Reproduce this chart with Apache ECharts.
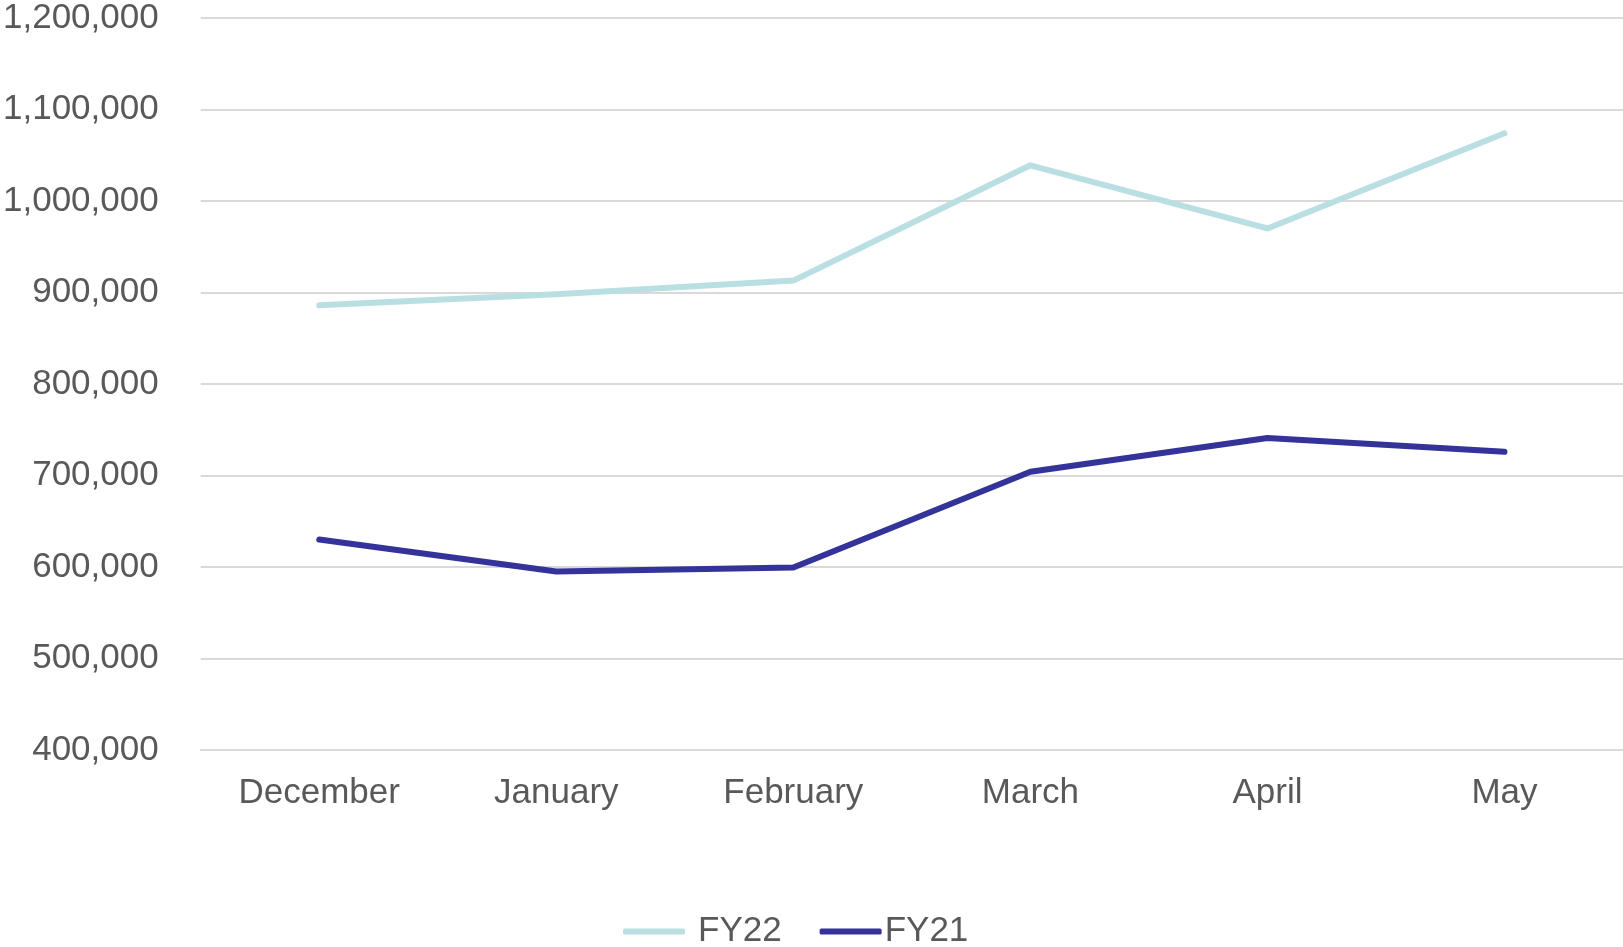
<!DOCTYPE html>
<html>
<head>
<meta charset="utf-8">
<script src="https://cdn.jsdelivr.net/npm/echarts@6/dist/echarts.min.js"></script>
<style>html,body{margin:0;padding:0;background:#fff}#c{width:1623px;height:947px}</style>
</head>
<body>
<div id="c"></div>
<script>
const categories = ['December', 'January', 'February', 'March', 'April', 'May'];
const fy22 = [886000, 898000, 913000, 1039000, 970000, 1074000];
const fy21 = [630000, 595000, 599500, 704000, 741000, 726000];
const yMin = 400000, yMax = 1200000, yStep = 100000;

const font = '"Liberation Sans", Arial, sans-serif';
const chart = echarts.init(document.getElementById('c'));
chart.setOption({
  animation: false,
  grid: { left: 199, right: 0, top: 18, bottom: 197, containLabel: false },
  legend: {
    left: 618, top: 909,
    itemWidth: 62, itemHeight: 6, itemGap: 38,
    icon: 'roundRect',
    textStyle: { fontFamily: font, fontSize: 35, color: '#595959', padding: [0, 0, 0, 8] },
    data: [
      { name: 'FY22' },
      { name: 'FY21', textStyle: { padding: [0, 0, 0, -2] } }
    ]
  },
  xAxis: {
    type: 'category',
    data: categories,
    boundaryGap: true,
    axisLine: { lineStyle: { color: '#d9d9d9', width: 2 } },
    axisTick: { show: false },
    axisLabel: { fontFamily: font, fontSize: 35, color: '#595959', margin: 26 }
  },
  yAxis: {
    type: 'value',
    min: yMin, max: yMax, interval: yStep,
    axisLine: { show: false },
    axisTick: { show: false },
    splitLine: { lineStyle: { color: '#d9d9d9', width: 2 } },
    axisLabel: {
      fontFamily: font, fontSize: 35, color: '#595959', margin: 42,
      formatter: v => v.toLocaleString('en-US')
    }
  },
  series: [
    { name: 'FY22', type: 'line', data: fy22, symbol: 'none', color: '#badfe3',
      lineStyle: { color: '#badfe3', width: 6, cap: 'round', join: 'round' } },
    { name: 'FY21', type: 'line', data: fy21, symbol: 'none', color: '#333399',
      lineStyle: { color: '#333399', width: 6, cap: 'round', join: 'round' } }
  ]
});
</script>
</body>
</html>
